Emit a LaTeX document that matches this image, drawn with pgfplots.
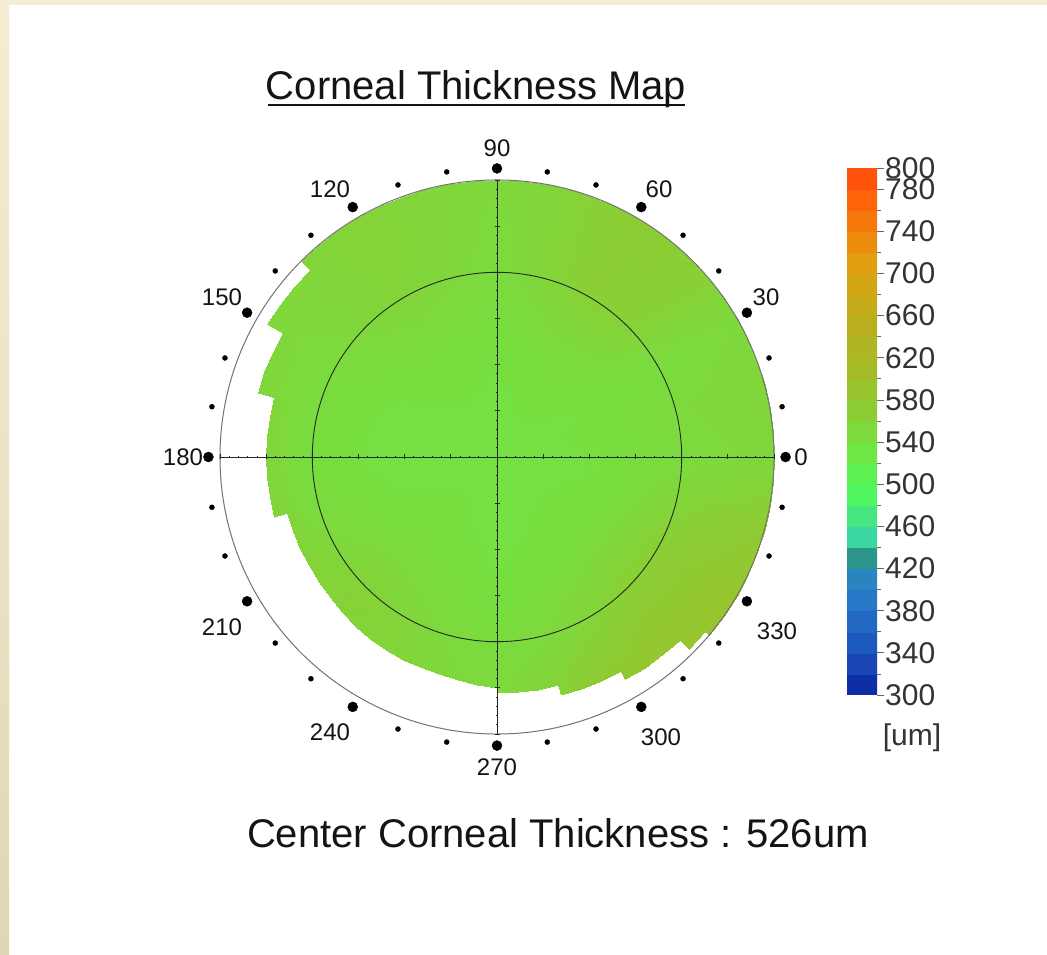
\documentclass[border=0pt]{standalone}
\usepackage{pgfplots}
\pgfplotsset{compat=1.18}
\usepgfplotslibrary{polar}
\usepackage{fontspec}
\setmainfont{Liberation Sans}
\definecolor{beigeT}{RGB}{247,236,212}
\definecolor{beigeB}{RGB}{226,215,180}
\definecolor{txt}{RGB}{20,20,20}
\pgfplotsset{colormap={thick}{
 rgb255=(15,45,165) rgb255=(25,70,180) rgb255=(30,90,190) rgb255=(35,105,195) rgb255=(40,120,200)
 rgb255=(42,132,192) rgb255=(45,150,140) rgb255=(60,215,160) rgb255=(70,230,130) rgb255=(80,245,95)
 rgb255=(92,240,80) rgb255=(110,230,70) rgb255=(125,217,60) rgb255=(140,205,52) rgb255=(152,196,45)
 rgb255=(165,187,40) rgb255=(175,181,35) rgb255=(185,175,30) rgb255=(197,170,25) rgb255=(210,165,20)
 rgb255=(225,158,15) rgb255=(235,140,15) rgb255=(245,120,10) rgb255=(255,100,10) rgb255=(255,82,10)
 rgb255=(255,82,10)}}
\begin{document}
\begin{tikzpicture}
\fill[white] (0pt,0pt) rectangle (1047pt,954pt);
\shade[top color=beigeT, bottom color=beigeB] (0pt,0pt) rectangle (9pt,954pt);
\fill[beigeT] (0pt,949pt) rectangle (1047pt,954pt);

\begin{axis}[
  at={(497pt,497pt)}, anchor=origin,
  x=46.17pt, y=46.17pt,
  xmin=-6, xmax=6, ymin=-6, ymax=6,
  axis lines=center, axis line style={-, line width=0.8pt, draw=black!85},
  clip=false, axis on top,
  xtick={-6,...,6}, ytick={-6,...,6}, minor tick num=4,
  tick align=center, major tick length=5pt, minor tick length=2.5pt,
  tick style={line width=0.8pt, black!85},
  xticklabels={}, yticklabels={},
  colormap name=thick, point meta min=300, point meta max=800,
]
\addplot[surf, shader=interp, data cs=polar, mesh/cols=4, point meta=explicit] coordinates {
(0,0)[528] (0,2.5)[532] (0,4.3)[538] (0,6)[543]
(5,0)[528] (5,2.5)[532] (5,4.3)[539] (5,6)[544]
(10,0)[528] (10,2.5)[533] (10,4.3)[540] (10,6)[545]
(15,0)[528] (15,2.5)[533] (15,4.3)[541] (15,6)[546]
(20,0)[528] (20,2.5)[533] (20,4.3)[539] (20,6)[544]
(25,0)[528] (25,2.5)[532] (25,4.3)[538] (25,6)[543]
(30,0)[528] (30,2.5)[532] (30,4.3)[536] (30,6)[541]
(35,0)[528] (35,2.5)[533] (35,4.3)[542] (35,6)[547]
(40,0)[528] (40,2.5)[534] (40,4.3)[548] (40,6)[554]
(45,0)[528] (45,2.5)[535] (45,4.3)[554] (45,6)[558]
(50,0)[528] (50,2.5)[535] (50,4.3)[556] (50,6)[559]
(55,0)[528] (55,2.5)[536] (55,4.3)[557] (55,6)[559]
(60,0)[528] (60,2.5)[536] (60,4.3)[559] (60,6)[560]
(65,0)[528] (65,2.5)[535] (65,4.3)[555] (65,6)[556]
(70,0)[528] (70,2.5)[535] (70,4.3)[552] (70,6)[553]
(75,0)[528] (75,2.5)[534] (75,4.3)[548] (75,6)[549]
(80,0)[528] (80,2.5)[533] (80,4.3)[545] (80,6)[546]
(85,0)[528] (85,2.5)[533] (85,4.3)[541] (85,6)[544]
(90,0)[528] (90,2.5)[532] (90,4.3)[538] (90,6)[541]
(95,0)[528] (95,2.5)[532] (95,4.3)[540] (95,6)[542]
(100,0)[528] (100,2.5)[533] (100,4.3)[542] (100,6)[544]
(105,0)[528] (105,2.5)[533] (105,4.3)[544] (105,6)[545]
(110,0)[528] (110,2.5)[533] (110,4.3)[546] (110,6)[547]
(115,0)[528] (115,2.5)[534] (115,4.3)[547] (115,6)[548]
(120,0)[528] (120,2.5)[534] (120,4.3)[549] (120,6)[550]
(125,0)[528] (125,2.5)[534] (125,4.3)[547] (125,6)[549]
(130,0)[528] (130,2.5)[533] (130,4.3)[546] (130,6)[547]
(135,0)[528] (135,2.5)[533] (135,4.3)[544] (135,6)[546]
(135,0)[528] (135,2.5)[533] (135,4.3)[544] (135,5.74)[546]
(140,0)[528] (140,2.5)[532] (140,4.3)[542] (140,5.74)[545]
(145,0)[528] (145,2.5)[532] (145,4.3)[540] (145,5.74)[544]
(150,0)[528] (150,2.5)[531] (150,4.3)[538] (150,5.74)[543]
(150,0)[528] (150,2.5)[531] (150,4.3)[538] (150,5.36)[543]
(155,0)[528] (155,2.5)[531] (155,4.3)[537] (155,5.36)[544]
(160,0)[528] (160,2.5)[530] (160,4.3)[537] (160,5.36)[544]
(165,0)[528] (165,2.5)[530] (165,4.3)[536] (165,5.36)[545]
(165,0)[528] (165,2.5)[530] (165,4.3)[536] (165,5.0)[545]
(170,0)[528] (170,2.5)[530] (170,4.3)[535] (170,5.0)[545]
(175,0)[528] (175,2.5)[530] (175,4.3)[535] (175,5.0)[546]
(180,0)[528] (180,2.5)[530] (180,4.3)[534] (180,5.0)[546]
(185,0)[528] (185,2.5)[530] (185,4.3)[535] (185,5.0)[547]
(190,0)[528] (190,2.5)[531] (190,4.3)[537] (190,5.0)[547]
(195,0)[528] (195,2.5)[531] (195,4.3)[538] (195,5.0)[548]
(195,0)[528] (195,2.5)[531] (195,4.3)[538] (195,4.72)[548]
(200,0)[528] (200,2.5)[532] (200,4.3)[541] (200,4.71)[548]
(205,0)[528] (205,2.5)[532] (205,4.3)[543] (205,4.70)[549]
(210,0)[528] (210,2.5)[533] (210,4.3)[546] (210,4.70)[549]
(215,0)[528] (215,2.5)[534] (215,4.3)[548] (215,4.71)[550]
(220,0)[528] (220,2.5)[535] (220,4.3)[550] (220,4.72)[550]
(225,0)[528] (225,2.5)[536] (225,4.3)[552] (225,4.74)[551]
(230,0)[528] (230,2.5)[535] (230,4.3)[551] (230,4.77)[550]
(235,0)[528] (235,2.5)[535] (235,4.3)[549] (235,4.80)[549]
(240,0)[528] (240,2.5)[534] (240,4.3)[548] (240,4.82)[548]
(245,0)[528] (245,2.5)[533] (245,4.3)[546] (245,4.84)[546]
(250,0)[528] (250,2.5)[533] (250,4.3)[543] (250,4.85)[545]
(255,0)[528] (255,2.5)[532] (255,4.3)[541] (255,4.86)[543]
(260,0)[528] (260,2.5)[532] (260,4.3)[539] (260,4.90)[542]
(265,0)[528] (265,2.5)[531] (265,4.3)[538] (265,4.96)[540]
(270,0)[528] (270,2.5)[531] (270,4.3)[536] (270,5.0)[539]
(270,0)[528] (270,2.5)[531] (270,4.3)[536] (270,5.1)[539]
(275,0)[528] (275,2.5)[531] (275,4.3)[538] (275,5.12)[544]
(280,0)[528] (280,2.5)[532] (280,4.3)[540] (280,5.12)[548]
(285,0)[528] (285,2.5)[532] (285,4.3)[542] (285,5.12)[553]
(285,0)[528] (285,2.5)[532] (285,4.3)[542] (285,5.33)[553]
(290,0)[528] (290,2.5)[532] (290,4.3)[545] (290,5.35)[562]
(295,0)[528] (295,2.5)[533] (295,4.3)[549] (295,5.35)[566]
(300,0)[528] (300,2.5)[533] (300,4.3)[552] (300,5.36)[571]
(300,0)[528] (300,2.5)[533] (300,4.3)[552] (300,5.55)[571]
(305,0)[528] (305,2.5)[533] (305,4.3)[555] (305,5.58)[574]
(310,0)[528] (310,2.5)[534] (310,4.3)[559] (310,5.58)[576]
(315,0)[528] (315,2.5)[534] (315,4.3)[562] (315,5.6)[579]
(315,0)[528] (315,2.5)[534] (315,4.3)[562] (315,5.87)[579]
(320,0)[528] (320,2.5)[534] (320,4.3)[562] (320,5.87)[578]
(320,0)[528] (320,2.5)[534] (320,4.3)[562] (320,6)[578]
(325,0)[528] (325,2.5)[534] (325,4.3)[562] (325,6)[578]
(330,0)[528] (330,2.5)[534] (330,4.3)[562] (330,6)[577]
(335,0)[528] (335,2.5)[533] (335,4.3)[558] (335,6)[573]
(340,0)[528] (340,2.5)[533] (340,4.3)[555] (340,6)[569]
(345,0)[528] (345,2.5)[532] (345,4.3)[551] (345,6)[565]
(350,0)[528] (350,2.5)[532] (350,4.3)[547] (350,6)[555]
(355,0)[528] (355,2.5)[532] (355,4.3)[542] (355,6)[549]
(360,0)[528] (360,2.5)[532] (360,4.3)[538] (360,6)[543]
};
\draw[black!55, line width=1pt] (axis cs:0,0) circle[radius=6];
\draw[black!85, line width=0.9pt] (axis cs:0,0) circle[radius=4];
\addplot[only marks, mark=*, mark size=5pt, black, data cs=polar] coordinates {
(0,6.25) (30,6.25) (60,6.25) (90,6.25) (120,6.25) (150,6.25)
(180,6.25) (210,6.25) (240,6.25) (270,6.25) (300,6.25) (330,6.25)};
\addplot[only marks, mark=*, mark size=2.5pt, black, data cs=polar] coordinates {
(10,6.27) (20,6.27) (40,6.27) (50,6.27) (70,6.27) (80,6.27)
(100,6.27) (110,6.27) (130,6.27) (140,6.27) (160,6.27) (170,6.27)
(190,6.27) (200,6.27) (220,6.27) (230,6.27) (250,6.27) (260,6.27)
(280,6.27) (290,6.27) (310,6.27) (320,6.27) (340,6.27) (350,6.27)};
\end{axis}

\begin{axis}[
  at={(847pt,259pt)}, anchor=south west, scale only axis, width=30pt, height=527pt,
  xmin=0, xmax=1, ymin=300, ymax=800, enlargelimits=false,
  axis line style={draw=none}, xtick=\empty,
  ytick={300,340,...,780,800}, minor ytick={320,360,...,760},
  ytick pos=right, yticklabel pos=right, tick align=outside,
  major tick length=7pt, minor tick length=4pt,
  tick style={line width=0.7pt, black!60},
  yticklabel style={font=\fontsize{30}{30}\selectfont, text=black!80, inner sep=0pt, xshift=1pt},
  /pgf/number format/assume math mode=true,
  colormap name=thick, point meta min=300, point meta max=800,
]
\addplot[surf, shader=flat corner, mesh/cols=2, point meta=y] coordinates {
(0,300) (1,300) (0,320) (1,320) (0,340) (1,340) (0,360) (1,360) (0,380) (1,380)
(0,400) (1,400) (0,420) (1,420) (0,440) (1,440) (0,460) (1,460) (0,480) (1,480)
(0,500) (1,500) (0,520) (1,520) (0,540) (1,540) (0,560) (1,560) (0,580) (1,580)
(0,600) (1,600) (0,620) (1,620) (0,640) (1,640) (0,660) (1,660) (0,680) (1,680)
(0,700) (1,700) (0,720) (1,720) (0,740) (1,740) (0,760) (1,760) (0,780) (1,780)
(0,800) (1,800)};
\end{axis}

\node[text=black!80, font=\fontsize{30}{30}\selectfont] at (912pt,216pt) {[um]};

\begin{scope}[every node/.style={text=txt, font=\fontsize{24}{24}\selectfont}]
\node at (497pt,806pt) {90};
\node at (659pt,765pt) {60};
\node at (766pt,657pt) {30};
\node at (801pt,497pt) {0};
\node at (777pt,323pt) {330};
\node at (661pt,217pt) {300};
\node at (497pt,187pt) {270};
\node at (330pt,222pt) {240};
\node at (222pt,327pt) {210};
\node at (183pt,497pt) {180};
\node at (222pt,657pt) {150};
\node at (330pt,765pt) {120};
\end{scope}

\node[anchor=base, text=txt, font=\fontsize{40}{48}\selectfont] at (476pt,854pt) {Corneal Thickness Map};
\draw[txt, line width=2pt] (268pt,849pt) -- (685pt,849pt);
\node[anchor=base, text=txt, font=\fontsize{40}{48}\selectfont] at (558pt,107pt) {Center Corneal Thickness : 526um};

\pgfresetboundingbox
\useasboundingbox (0pt,0pt) rectangle (1047pt,954pt);
\end{tikzpicture}
\end{document}
